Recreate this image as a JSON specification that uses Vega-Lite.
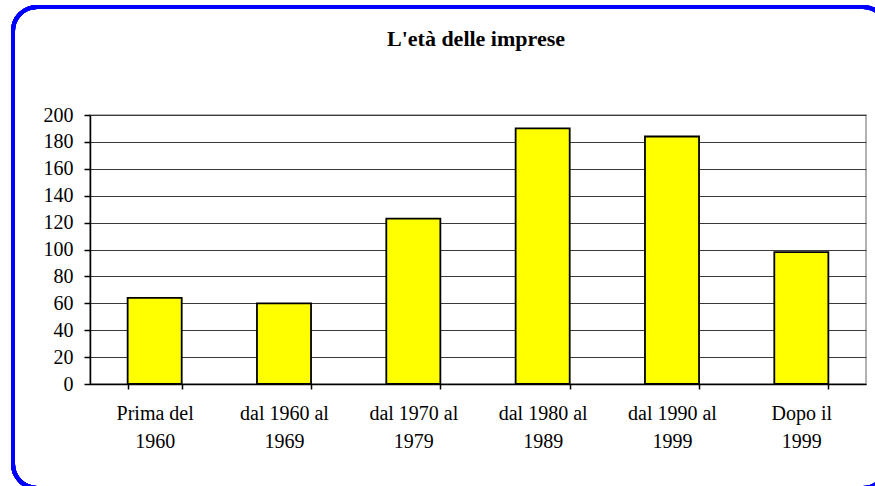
{
  "$schema": "https://vega.github.io/schema/vega-lite/v6.json",
  "autosize": {"type": "none"},
  "padding": {"left": 90, "top": 115, "right": 9, "bottom": 102},
  "width": 776,
  "height": 269,
  "background": "white",
  "title": {
    "text": "L'età delle imprese",
    "font": "Liberation Serif",
    "fontSize": 22,
    "fontWeight": "bold",
    "color": "black",
    "anchor": "middle",
    "offset": -46,
    "dx": -2
  },
  "config": {
    "view": {"stroke": "#999999", "strokeWidth": 1.5},
    "axis": {
      "labelFont": "Liberation Serif",
      "labelFontSize": 20,
      "labelColor": "black",
      "domainColor": "black",
      "domainWidth": 1.5,
      "tickColor": "black",
      "tickWidth": 1.5
    }
  },
  "data": {
    "values": [
      {"periodo": "Prima del 1960", "imprese": 64},
      {"periodo": "dal 1960 al 1969", "imprese": 60},
      {"periodo": "dal 1970 al 1979", "imprese": 123},
      {"periodo": "dal 1980 al 1989", "imprese": 190},
      {"periodo": "dal 1990 al 1999", "imprese": 184},
      {"periodo": "Dopo il 1999", "imprese": 98}
    ]
  },
  "layer": [
    {
      "mark": {"type": "bar", "fill": "#ffff00", "stroke": "black", "strokeWidth": 1.8},
      "encoding": {
        "x": {
          "field": "periodo",
          "type": "nominal",
          "sort": null,
          "scale": {"paddingInner": 0.582, "paddingOuter": 0.291},
          "axis": {
            "title": null,
            "labelAngle": 0,
            "tickBand": "extent",
            "tickSize": 5,
            "labelPadding": 14,
            "labelLineHeight": 28,
            "labelExpr": "[substring(datum.label, 0, lastindexof(datum.label, ' ')), substring(datum.label, lastindexof(datum.label, ' ') + 1)]"
          }
        },
        "y": {
          "field": "imprese",
          "type": "quantitative",
          "scale": {"domain": [0, 200]},
          "axis": {
            "title": null,
            "values": [0, 20, 40, 60, 80, 100, 120, 140, 160, 180, 200],
            "grid": true,
            "gridColor": "#3a3a3a",
            "gridWidth": 1,
            "tickSize": 6,
            "labelPadding": 11
          }
        }
      }
    },
    {
      "mark": {"type": "rect", "filled": false, "stroke": "#0000ff", "strokeWidth": 4, "cornerRadius": 24, "clip": false},
      "encoding": {
        "x": {"datum": -77, "type": "quantitative", "scale": {"domain": [0, 776], "zero": false, "nice": false}, "axis": null},
        "x2": {"datum": 797},
        "y": {"datum": 377, "type": "quantitative", "scale": {"domain": [0, 269], "zero": false, "nice": false}, "axis": null},
        "y2": {"datum": -104}
      }
    }
  ],
  "resolve": {"scale": {"x": "independent", "y": "independent"}}
}
